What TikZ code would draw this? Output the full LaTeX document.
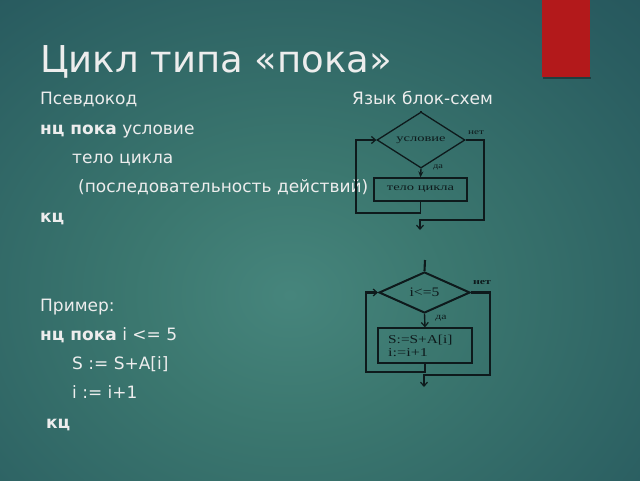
\documentclass[tikz,border=0pt]{standalone}
\usepackage{fontspec}
\setmainfont{DejaVu Sans}
\newfontfamily\fcfont{Liberation Serif}
\usepackage{graphicx}
\usetikzlibrary{shapes.geometric,arrows.meta}
\definecolor{bgA}{HTML}{46857C}
\definecolor{bgB}{HTML}{3B776F}
\definecolor{bgC}{HTML}{295C60}
\definecolor{bgD}{HTML}{1E4853}
\definecolor{bgE}{HTML}{173947}
\definecolor{redbar}{HTML}{B3191B}
\definecolor{fgtext}{HTML}{EDEDED}
\definecolor{fcdark}{HTML}{0E1A1C}
\pgfdeclareradialshading{bgshade}{\pgfpoint{0bp}{0bp}}{color(0bp)=(bgA); color(10bp)=(bgB); color(28bp)=(bgC); color(44bp)=(bgD); color(66bp)=(bgE)}
\newcommand\wide[2]{\scalebox{#1}[1]{#2}}
\begin{document}
\begin{tikzpicture}[x=1pt,y=-1pt,
  txt/.style={anchor=base west, inner sep=0, text=fgtext, font=\fontsize{17}{20}\selectfont},
  cond/.style={diamond, draw=fcdark, inner sep=0, text=fcdark},
  fcbox/.style={rectangle, draw=fcdark, inner sep=0, text=fcdark},
  fcone/.style={draw=fcdark, line width=1.4pt},
  fctwo/.style={draw=fcdark, line width=2.1pt},
  barb/.style={-{Straight Barb[length=4pt,width=7pt,line width=1.2pt]}},
  downtip/.style={-{Stealth[length=6pt,width=5pt]}},
  lbl/.style={inner sep=0, text=fcdark, font=\fcfont\fontsize{8}{9}\selectfont},
  fctxt/.style={inner sep=0, text=fcdark}]
\useasboundingbox (0,0) rectangle (640,480);
\begin{scope}
\clip (0,0) rectangle (640,480);
\shade[shading=bgshade] (-110,-35) rectangle (690,625);
\end{scope}
% red bar
\fill[black, opacity=0.35] (543,77) rectangle (591,79);
\fill[redbar] (542,0) rectangle (590,77);
% title
\node[txt, font=\fontsize{37}{44}\selectfont, text=fgtext] (title) at (40,72) {Цикл типа «пока»};
% left column
\node[txt] (pseudo) at (40,104) {Псевдокод};
\node[txt] (lang) at (352,104) {Язык блок-схем};
\node[txt] (l1) at (40,134) {\textbf{нц пока} условие};
\node[txt] (l2) at (72,163) {тело цикла};
\node[txt] (l3) at (78,192) {(последовательность действий)};
\node[txt] (l4) at (40,222) {\textbf{кц}};
\node[txt] (ex) at (40,311) {Пример:};
\node[txt] (e1) at (40,340) {\textbf{нц пока} i <= 5};
\node[txt] (e2) at (72,369) {S := S+A[i]};
\node[txt] (e3) at (72,398) {i := i+1};
\node[txt] (e4) at (46,428) {\textbf{кц}};
% flowchart 1
\node[cond, minimum width=88pt, minimum height=42pt, line width=1.3pt] (c1) at (421,140)
  {\fcfont\fontsize{10}{11}\selectfont\wide{1.45}{условие}};
\node[fcbox, minimum width=93pt, minimum height=23pt, line width=1.2pt] (b1) at (420.5,189.5)
  {\fcfont\fontsize{10}{11}\selectfont\wide{1.45}{тело цикла}};
\coordinate (t1) at (421,111);
\coordinate (r1a) at (484,140);
\coordinate (r1b) at (484,220);
\coordinate (r1c) at (420,220);
\coordinate (x1) at (420,230);
\coordinate (l1a) at (420.5,213);
\coordinate (l1b) at (356,213);
\coordinate (l1c) at (356,140);
\draw[fcone] (t1) -- (c1.north);
\draw[fcone, downtip] (c1.south) -- (b1.north);
\draw[fcone, barb] (c1.east) -- (r1a) -- (r1b) -- (r1c) -- (x1);
\draw[fcone, barb] (b1.south) -- (l1a) -- (l1b) -- (l1c) -- (c1.west);
\node[lbl] (no1) at (476,133) {\wide{1.4}{нет}};
\node[lbl] (yes1) at (438,167) {\wide{1.3}{да}};
% flowchart 2
\node[cond, minimum width=91pt, minimum height=41pt, line width=2pt] (c2) at (424.5,292.5)
  {\fcfont\fontsize{13}{14}\selectfont\wide{1.2}{i<=5}};
\node[fcbox, minimum width=94pt, minimum height=35pt, line width=1.3pt] (b2) at (425,345.5) {};
\node[fctxt, anchor=west, align=left, font=\fcfont\fontsize{12}{12.5}\selectfont] (b2t) at (388,346)
  {\wide{1.28}{S:=S+A[i]}\\\wide{1.35}{i:=i+1}};
\coordinate (t2) at (425,260);
\coordinate (r2a) at (490,292.5);
\coordinate (r2b) at (490,375);
\coordinate (r2c) at (424,375);
\coordinate (x2) at (424,387);
\coordinate (l2a) at (425,372);
\coordinate (l2b) at (366,372);
\coordinate (l2c) at (366,292.5);
\draw[fctwo] (t2) -- (c2.north);
\draw[fcone, barb] (c2.south) -- (b2.north);
\draw[fctwo, barb] (c2.east) -- (r2a) -- (r2b) -- (r2c) -- (x2);
\draw[fctwo, barb] (b2.south) -- (l2a) -- (l2b) -- (l2c) -- (c2.west);
\node[lbl, font=\fcfont\bfseries\fontsize{8.5}{9}\selectfont] (no2) at (482,283) {\wide{1.4}{нет}};
\node[lbl, font=\fcfont\fontsize{9}{10}\selectfont] (yes2) at (441,318) {\wide{1.3}{да}};
\end{tikzpicture}
\end{document}
